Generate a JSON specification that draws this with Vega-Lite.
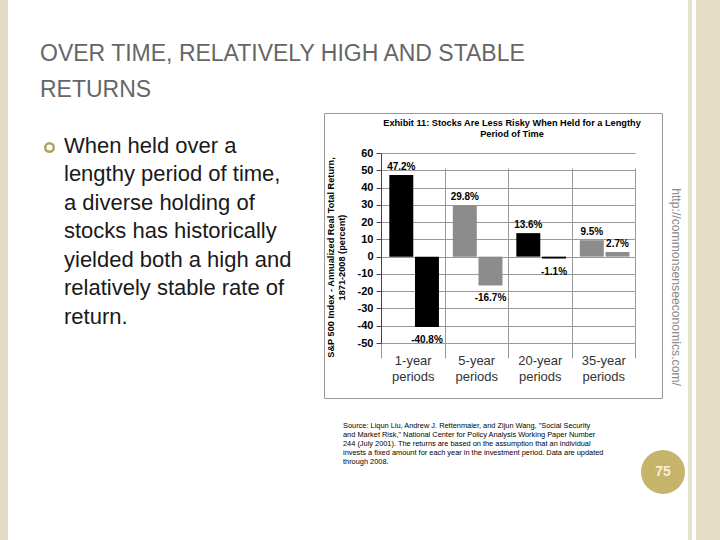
{
  "$schema": "https://vega.github.io/schema/vega-lite/v6.json",
  "padding": 0,
  "background": "white",
  "config": {
    "font": "Liberation Sans",
    "view": {"stroke": null},
    "title": {"font": "Liberation Sans"}
  },
  "datasets": {
    "none": [],
    "one": [{"item": "bullet"}],
    "page": [{"page": "75"}],
    "returns": [
      {"period": "1-year periods", "kind": "max", "value": 47.2, "label": "47.2%"},
      {"period": "1-year periods", "kind": "min", "value": -40.8, "label": "-40.8%"},
      {"period": "5-year periods", "kind": "max", "value": 29.8, "label": "29.8%"},
      {"period": "5-year periods", "kind": "min", "value": -16.7, "label": "-16.7%"},
      {"period": "20-year periods", "kind": "max", "value": 13.6, "label": "13.6%"},
      {"period": "20-year periods", "kind": "min", "value": -1.1, "label": "-1.1%"},
      {"period": "35-year periods", "kind": "max", "value": 9.5, "label": "9.5%"},
      {"period": "35-year periods", "kind": "min", "value": 2.7, "label": "2.7%"}
    ]
  },
  "data": {"name": "none"},
  "columns": 10,
  "spacing": 0,
  "bounds": "flush",
  "align": "each",
  "concat": [
    {"width": 8, "height": 113, "view": {"fill": "#e3dbc3"}, "mark": "point"},
    {"width": 36, "height": 113, "mark": "point"},
    {"width": 11, "height": 113, "mark": "point"},
    {"width": 269, "height": 113, "mark": "point"},
    {"width": 338, "height": 113, "mark": "point"},
    {"width": 2, "height": 113, "mark": "point"},
    {"width": 24, "height": 113, "mark": "point"},
    {"width": 4, "height": 113, "view": {"fill": "#e8e1cc"}, "mark": "point"},
    {"width": 4, "height": 113, "mark": "point"},
    {"width": 24, "height": 113, "view": {"fill": "#e4dcc4"}, "mark": "point"},

    {"width": 8, "height": 285, "view": {"fill": "#e3dbc3"}, "mark": "point"},
    {"width": 36, "height": 20, "mark": "point",
     "title": {"text": ["When held over a", "lengthy period of time,", "a diverse holding of", "stocks has historically", "yielded both a high and", "relatively stable rate of", "return."], "orient": "bottom", "anchor": "start", "dx": 56, "offset": 2.6, "fontSize": 22, "fontWeight": "normal", "color": "#1a1a1a", "lineHeight": 28.5}},
    {"width": 11, "height": 69, "data": {"name": "one"},
     "mark": {"type": "point", "shape": "circle", "filled": false, "size": 72, "stroke": "#b0a460", "strokeWidth": 2.5, "opacity": 1}},
    {"width": 269, "height": 10, "mark": "point",
     "title": {"text": ["OVER TIME, RELATIVELY HIGH AND STABLE", "RETURNS"], "orient": "top", "anchor": "start", "dx": -15, "offset": 11, "fontSize": 23, "fontWeight": "normal", "color": "#666666", "lineHeight": 36}},
    {
      "width": 338,
      "height": 285,
      "view": {"stroke": "#999999", "strokeWidth": 1},
      "title": {"text": ["Exhibit 11: Stocks Are Less Risky When Held for a Lengthy", "Period of Time"], "fontSize": 9.2, "fontWeight": "bold", "color": "#000000", "anchor": "middle", "dx": 19, "offset": -26.5, "lineHeight": 11},
      "data": {"name": "returns"},
      "encoding": {
        "x": {
          "field": "period", "type": "nominal", "sort": null,
          "scale": {"range": [57, 311], "paddingInner": 0, "paddingOuter": 0},
          "axis": {"orient": "bottom", "offset": -55, "domain": false, "ticks": false, "tickSize": 0, "grid": true, "tickBand": "extent", "gridColor": "#999999", "labelAngle": 0, "labelFontSize": 13, "labelColor": "#333333", "labelPadding": 11, "labelExpr": "split(datum.label, ' ')", "labelLineHeight": 16.5, "title": null}
        },
        "xOffset": {"field": "kind", "type": "nominal", "sort": ["max", "min"], "scale": {"paddingInner": 0.066, "paddingOuter": 0.27, "align": 0.6}},
        "y": {
          "field": "value", "type": "quantitative",
          "scale": {"domain": [-50, 60], "range": [230, 40], "nice": false, "zero": false},
          "axis": {"orient": "left", "offset": -57, "values": [-50, -40, -30, -20, -10, 0, 10, 20, 30, 40, 50, 60], "labelExpr": "replace(datum.label, '\u2212', '-')", "grid": true, "gridColor": "#999999", "domain": true, "domainColor": "#444444", "ticks": true, "tickSize": 5, "tickColor": "#444444", "labelFontSize": 11, "labelFontWeight": "bold", "labelColor": "#000000", "labelPadding": 3,
                   "title": ["S&P 500 Index - Annualized Real Total Return,", "1871-2008 (percent)"], "titleFontSize": 9.2, "titleFontWeight": "bold", "titleColor": "#000000", "titleLineHeight": 11.5, "titleX": -46, "titleY": 144}
        }
      },
      "layer": [
        {
          "mark": {"type": "bar"},
          "encoding": {
            "y2": {"datum": 0},
            "color": {"field": "period", "type": "nominal", "sort": null,
                      "scale": {"domain": ["1-year periods", "5-year periods", "20-year periods", "35-year periods"], "range": ["#000000", "#8c8c8c", "#000000", "#8c8c8c"]},
                      "legend": null}
          }
        },
        {
          "transform": [{"filter": "datum.value > 0"}],
          "mark": {"type": "text", "baseline": "bottom", "dy": -3, "fontSize": 10, "fontWeight": "bold", "color": "#000000"},
          "encoding": {"text": {"field": "label"}}
        },
        {
          "transform": [{"filter": "datum.value < 0"}],
          "mark": {"type": "text", "baseline": "top", "dy": 8, "fontSize": 10, "fontWeight": "bold", "color": "#000000"},
          "encoding": {"text": {"field": "label"}}
        }
      ]
    },
    {"width": 2, "height": 273, "mark": "point",
     "title": {"text": "http://commonsenseeconomics.com/", "orient": "right", "anchor": "end", "offset": 6, "fontSize": 12.2, "fontWeight": "normal", "color": "#8a8a8a"}},
    {"width": 24, "height": 285, "mark": "point"},
    {"width": 4, "height": 285, "view": {"fill": "#e8e1cc"}, "mark": "point"},
    {"width": 4, "height": 285, "mark": "point"},
    {"width": 24, "height": 285, "view": {"fill": "#e4dcc4"}, "mark": "point"},

    {"width": 8, "height": 52, "view": {"fill": "#e3dbc3"}, "mark": "point"},
    {"width": 36, "height": 52, "mark": "point"},
    {"width": 11, "height": 52, "mark": "point"},
    {"width": 269, "height": 52, "mark": "point"},
    {"width": 338, "height": 14, "mark": "point",
     "title": {"text": ["Source: Liqun Liu, Andrew J.  Rettenmaier, and Zijun Wang, \"Social Security", "and Market Risk,\" National Center for Policy Analysis Working Paper Number", "244 (July 2001).  The returns are based on the assumption that an individual", "invests a fixed amount for each year in the investment period. Data are updated", "through 2008."], "orient": "bottom", "anchor": "start", "dx": 19, "offset": 9.5, "fontSize": 7.4, "fontWeight": "normal", "color": "#000000", "lineHeight": 9}},
    {"width": 2, "height": 52, "mark": "point"},
    {"width": 24, "height": 52, "mark": "point"},
    {"width": 4, "height": 52, "view": {"fill": "#e8e1cc"}, "mark": "point"},
    {"width": 4, "height": 52, "mark": "point"},
    {"width": 24, "height": 52, "view": {"fill": "#e4dcc4"}, "mark": "point"},

    {"width": 8, "height": 90, "view": {"fill": "#e3dbc3"}, "mark": "point"},
    {"width": 36, "height": 90, "mark": "point"},
    {"width": 11, "height": 90, "mark": "point"},
    {"width": 269, "height": 90, "mark": "point"},
    {"width": 338, "height": 90, "mark": "point"},
    {"width": 2, "height": 44, "data": {"name": "page"},
     "layer": [
       {"mark": {"type": "point", "shape": "circle", "filled": true, "size": 1936, "color": "#c6b46a", "opacity": 1}},
       {"mark": {"type": "text", "fontSize": 14, "fontWeight": "bold", "color": "#f6f0da", "align": "center", "baseline": "middle"}, "encoding": {"text": {"field": "page"}}}
     ]},
    {"width": 24, "height": 90, "mark": "point"},
    {"width": 4, "height": 90, "view": {"fill": "#e8e1cc"}, "mark": "point"},
    {"width": 4, "height": 90, "mark": "point"},
    {"width": 24, "height": 90, "view": {"fill": "#e4dcc4"}, "mark": "point"}
  ]
}
